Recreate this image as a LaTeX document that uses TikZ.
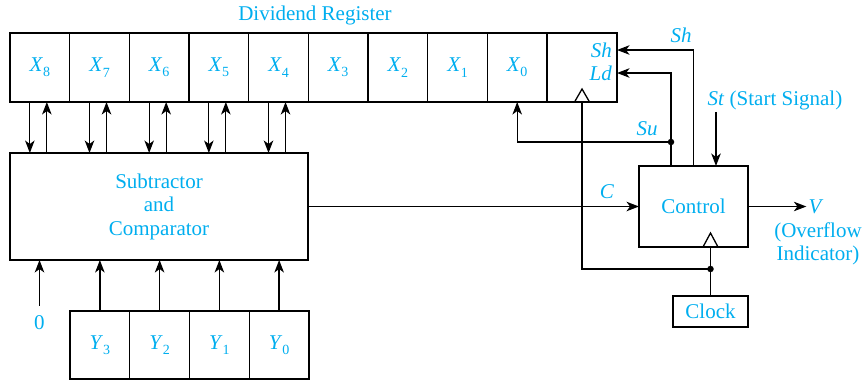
\documentclass[tikz,border=0pt]{standalone}
\usepackage{fontspec}
\setmainfont{Liberation Serif}
\usetikzlibrary{arrows.meta,positioning}
\definecolor{sigCyan}{RGB}{0,174,239}
\newcommand{\bitname}[2]{\textit{#1}\raisebox{-0.55ex}{\fontsize{14}{14}\selectfont #2}}

\begin{document}
\begin{tikzpicture}[
  x=1pt,y=-1pt,
  font=\fontsize{21}{23.5}\selectfont,
  cell/.style={draw,line width=1.1pt,outer sep=0pt,inner sep=0pt,
               minimum width=59.67pt,minimum height=69pt,text=sigCyan},
  ycell/.style={cell,minimum width=59.75pt,minimum height=68pt},
  blk/.style={draw,line width=2.4pt,outer sep=0pt,inner sep=0pt,align=center,text=sigCyan},
  lbl/.style={text=sigCyan,inner sep=2pt,align=center},
  arr/.style={-{Stealth[length=12.5pt,width=9.5pt,inset=3.5pt]},line width=1.3pt},
  wire/.style={line width=1.3pt},
  dot/.style={circle,fill,inner sep=0pt,minimum size=6.5pt}
]
  \useasboundingbox (0,0) rectangle (863,381);

  % ── Dividend register ─────────────────────────────────────────────────────
  \node[cell,anchor=north west] (x8) at (10,33) {\bitname{X}{8}};
  \node[cell,right=0pt of x8] (x7) {\bitname{X}{7}};
  \node[cell,right=0pt of x7] (x6) {\bitname{X}{6}};
  \node[cell,right=0pt of x6] (x5) {\bitname{X}{5}};
  \node[cell,right=0pt of x5] (x4) {\bitname{X}{4}};
  \node[cell,right=0pt of x4] (x3) {\bitname{X}{3}};
  \node[cell,right=0pt of x3] (x2) {\bitname{X}{2}};
  \node[cell,right=0pt of x2] (x1) {\bitname{X}{1}};
  \node[cell,right=0pt of x1] (x0) {\bitname{X}{0}};
  \draw[line width=2.4pt] (x8.north west) rectangle (x0.south east);
  \node[blk,minimum width=70pt,minimum height=69pt,right=0pt of x0] (shld) {};
  \coordinate (shin) at ([yshift=17.5pt]shld.east);
  \coordinate (ldin) at ([yshift=-5.5pt]shld.east);
  \node[lbl,anchor=east] at ([xshift=-3pt]shin) {\textit{Sh}};
  \node[lbl,anchor=east] at ([xshift=-3pt]ldin) {\textit{Ld}};
  \draw[wire] ([xshift=-7.5pt]shld.south) -- ++(7.5,-13) -- ++(7.5,13);

  \node[lbl] (divlbl) at (315,15) {Dividend Register};

  % ── Subtractor / comparator ───────────────────────────────────────────────
  \node[blk,minimum width=298pt,minimum height=107pt] (sub) at (159,206.5)
       {Subtractor\\and\\Comparator};

  \foreach \c in {x8,x7,x6,x5,x4}{
    \draw[arr] ([xshift=-10pt]\c.south) -- ([xshift=-10pt]\c.south |- sub.north);
    \draw[arr] ([xshift=7pt]\c.south |- sub.north) -- ([xshift=7pt]\c.south);
  }

  % ── Divisor register ──────────────────────────────────────────────────────
  \node[ycell,anchor=north west] (y3) at (70,311) {\bitname{Y}{3}};
  \node[ycell,right=0pt of y3] (y2) {\bitname{Y}{2}};
  \node[ycell,right=0pt of y2] (y1) {\bitname{Y}{1}};
  \node[ycell,right=0pt of y1] (y0) {\bitname{Y}{0}};
  \draw[line width=2.4pt] (y3.north west) rectangle (y0.south east);

  \foreach \c in {y3,y2,y1,y0}{
    \draw[arr] (\c.north) -- (\c.north |- sub.south);
  }
  \node[lbl] (zero) at (39.5,323) {0};
  \draw[arr] ([yshift=8pt]zero.north) -- (zero.north |- sub.south);

  % ── Control ───────────────────────────────────────────────────────────────
  \node[blk,minimum width=109pt,minimum height=81pt] (ctrl) at (693.5,206.5) {Control};
  \node[blk,minimum width=75pt,minimum height=31pt,inner xsep=4pt] (clock) at (710.5,311.5) {Clock};

  \draw[arr] (sub.east) -- (ctrl.west);
  \node[lbl] (clbl) at (607,192) {\textit{C}};

  \node[lbl] (v) at (816,206.5) {\textit{V}};
  \node[lbl] (ovf) at (818,244) {(Overflow\\Indicator)};
  \draw[arr] (ctrl.east) -- (ctrl.east -| v.west);

  \path ([xshift=-22.5pt]ctrl.north) coordinate (ldbase)
        ([xshift=22.5pt]ctrl.north) coordinate (stend);
  \coordinate (suy) at (0,142);
  \coordinate (clky) at (0,269);

  \draw[arr] (ctrl.north) |- (shin);
  \node[lbl] (shlbl) at (681,35) {\textit{Sh}};
  \draw[arr] (ldbase) |- (ldin);
  \node[dot] (sudot) at (ldbase |- suy) {};
  \draw[arr] (sudot.center) -| (x0.south);
  \node[lbl] (sulbl) at (647,129) {\textit{Su}};

  \node[lbl] (stlbl) at (775,100) {\textit{St} (Start Signal)};
  \draw[arr] (stlbl.south -| stend) -- (stend);

  % ── Clock distribution ────────────────────────────────────────────────────
  \coordinate (ctrlclk) at (ctrl.south -| clock.north);
  \node[dot] (clkdot) at (clock.north |- clky) {};
  \draw[wire] (clock.north) -- (ctrlclk);
  \draw[wire] ([xshift=-7.5pt]ctrlclk) -- ++(7.5,-14) -- ++(7.5,14);
  \draw[wire] (shld.south) |- (clkdot.center);
\end{tikzpicture}
\end{document}
